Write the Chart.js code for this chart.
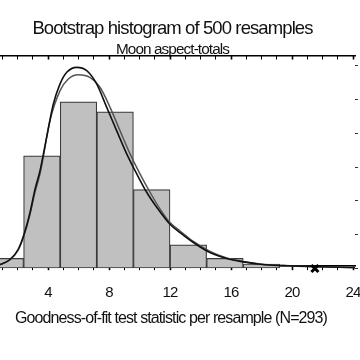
<!DOCTYPE html>
<html>
<head>
<meta charset="utf-8">
<script src="https://cdn.jsdelivr.net/npm/chart.js@4.4.1/dist/chart.umd.min.js"></script>
<style>
  html, body { margin: 0; padding: 0; background: #fff; overflow: hidden; width: 360px; height: 360px; }
  #wrap { position: absolute; left: -22px; top: 0; width: 384px; height: 360px; }
</style>
</head>
<body>
<div id="wrap"><canvas id="c"></canvas></div>
<script>
// ---- data ----
const binCenters = [1.2, 3.6, 6.0, 8.4, 10.8, 13.2, 15.6, 18.0];
const binCounts  = [9, 100, 148, 139, 70, 21, 9, 4];

const fitAx = [0, 0.85, 1.51, 2.05, 2.43, 2.82, 3.15, 3.48, 3.91, 4.35, 4.79, 5.23, 5.88, 6.54, 7.19, 7.85, 8.50, 9.16, 9.82, 10.47, 11.13, 12.0, 12.66, 13.53, 14.62, 15.72, 16.8, 17.9, 18.56, 19.87, 21.62, 23.8, 24.2];
const fitAy = [0.5, 3.5, 8.0, 17.1, 30.4, 49.7, 70.4, 87.0, 116.5, 146.1, 163.9, 174.2, 178.6, 175.7, 163.9, 143.1, 122.4, 101.8, 84.0, 67.7, 54.4, 39.3, 31.9, 23.1, 14.2, 8.9, 5.9, 3.8, 3.1, 2.4, 1.5, 0.9, 0.8];

const fitBx = [0, 0.85, 1.51, 2.05, 2.43, 2.82, 3.15, 3.48, 4.13, 4.79, 5.33, 5.99, 6.75, 7.41, 8.07, 8.72, 9.38, 10.03, 10.69, 11.34, 12.0, 12.66, 13.53, 14.62, 15.72, 16.8, 17.9, 18.56, 19.87, 21.62, 23.8, 24.2];
const fitBy = [0.5, 3.4, 7.8, 16.6, 29.5, 48.0, 68.0, 84.3, 131.3, 157.9, 168.3, 172.1, 169.7, 160.9, 143.1, 122.4, 101.8, 84.0, 67.7, 53.0, 40.8, 33.3, 24.0, 15.1, 9.3, 6.2, 4.0, 3.2, 2.5, 1.6, 1.0, 0.9];

const observedStat = [21.5];
const observedY = [0];

const xMinorTicks = [0,1,2,3,4,5,6,7,8,9,10,11,12,13,14,15,16,17,18,19,20,21,22,23,24];
const xMajorTicks = [0, 4, 8, 12, 16, 20, 24];
const xLabelTicks = [4, 8, 12, 16, 20, 24];
const yTicks = [0, 30, 60, 90, 120, 150, 180];

const titleText = 'Bootstrap histogram of 500 resamples';
const subtitleText = 'Moon aspect-totals';
const xTitle = 'Goodness-of-fit test statistic per resample (N=293)';

// ---- chart ----
const FONT = '"Liberation Sans", Arial, sans-serif';
const zip = (xs, ys) => xs.map((x, i) => ({ x: x, y: ys[i] }));

const narrowText = {
  id: 'narrowText',
  beforeDraw(chart) { chart.ctx.letterSpacing = '-0.9px'; },
  afterDraw(chart) { chart.ctx.letterSpacing = '0px'; }
};

new Chart(document.getElementById('c'), {
  type: 'bar',
  plugins: [narrowText],
  data: {
    datasets: [
      {
        type: 'line',
        data: zip(fitAx, fitAy),
        borderColor: '#111111',
        borderWidth: 1.6,
        pointRadius: 0,
        cubicInterpolationMode: 'monotone',
        fill: false,
        order: 0
      },
      {
        type: 'line',
        data: zip(fitBx, fitBy),
        borderColor: '#555555',
        borderWidth: 1.5,
        pointRadius: 0,
        cubicInterpolationMode: 'monotone',
        fill: false,
        order: 1
      },
      {
        type: 'scatter',
        data: zip(observedStat, observedY),
        pointStyle: 'crossRot',
        pointRadius: 5,
        borderWidth: 3,
        borderColor: '#000000',
        backgroundColor: '#000000',
        clip: false,
        order: -1
      },
      {
        type: 'bar',
        data: zip(binCenters, binCounts),
        backgroundColor: '#c0c0c0',
        borderColor: '#3a3a3a',
        borderWidth: 1.2,
        borderSkipped: false,
        barThickness: 'flex',
        barPercentage: 1.0,
        categoryPercentage: 1.0,
        order: 5
      }
    ]
  },
  options: {
    responsive: true,
    maintainAspectRatio: false,
    animation: false,
    layout: { autoPadding: false, padding: { left: 9, right: 4, top: 0, bottom: 28 } },
    plugins: {
      legend: { display: false },
      tooltip: { enabled: false },
      title: {
        display: true,
        text: titleText,
        color: '#111',
        font: { family: FONT, size: 18.5, weight: 'normal' },
        padding: { top: 18, bottom: 0 }
      },
      subtitle: {
        display: true,
        text: subtitleText,
        color: '#111',
        font: { family: FONT, size: 15.3, weight: 'normal' },
        padding: { top: 0, bottom: 1 }
      }
    },
    scales: {
      x: {
        type: 'linear',
        position: 'bottom',
        offset: false,
        min: 0,
        max: 24.13,
        afterBuildTicks: (s) => { s.ticks = xMinorTicks.map(v => ({ value: v })); },
        afterFit: (s) => { s.paddingLeft = 0; s.paddingRight = 0; },
        ticks: {
          autoSkip: false,
          maxRotation: 0,
          padding: 14,
          color: '#111',
          font: { family: FONT, size: 15 },
          callback: (v) => xLabelTicks.includes(v) ? String(v) : ''
        },
        grid: {
          offset: false,
          drawOnChartArea: false,
          drawTicks: true,
          tickLength: 4,
          tickColor: '#000',
          tickWidth: (ctx) => (ctx.tick && xMajorTicks.includes(ctx.tick.value)) ? 1.6 : 1
        },
        border: { display: true, color: '#000', width: 1.6 },
        title: {
          display: true,
          text: xTitle,
          color: '#111',
          font: { family: FONT, size: 16 },
          padding: { top: -7.4, bottom: 0 }
        }
      },
      xTop: {
        type: 'linear',
        position: 'top',
        offset: false,
        min: 0,
        max: 24.13,
        afterBuildTicks: (s) => { s.ticks = xMinorTicks.map(v => ({ value: v })); },
        afterFit: (s) => { s.paddingLeft = 0; s.paddingRight = 0; },
        ticks: { display: false },
        grid: {
          offset: false,
          drawOnChartArea: false,
          drawTicks: true,
          tickLength: -4,
          tickColor: '#000',
          tickWidth: (ctx) => (ctx.tick && xMajorTicks.includes(ctx.tick.value)) ? 1.6 : 1
        },
        border: { display: true, color: '#000', width: 1.4 }
      },
      y: {
        type: 'linear',
        position: 'right',
        min: -1.5,
        max: 185.5,
        afterBuildTicks: (s) => { s.ticks = yTicks.map(v => ({ value: v })); },
        ticks: { display: false },
        grid: {
          drawOnChartArea: false,
          drawTicks: true,
          tickLength: 3,
          tickColor: '#333'
        },
        border: { display: false }
      }
    }
  }
});
</script>
</body>
</html>
